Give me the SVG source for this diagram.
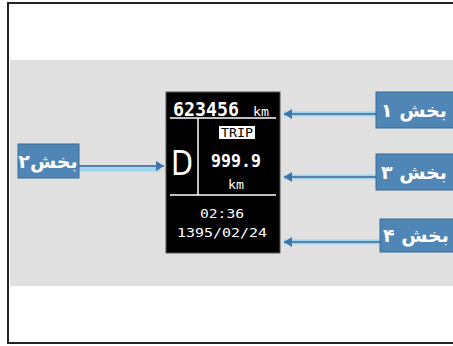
<svg xmlns="http://www.w3.org/2000/svg" width="453" height="346" viewBox="0 0 453 346">
<style>
.lbl rect{fill:#4f86b6;stroke:#3a6a95;stroke-width:1}
.lbl text{fill:#fff;font-family:"DejaVu Sans",sans-serif;font-size:19px;font-weight:bold;text-anchor:middle}
.glow{stroke:#9ed6f2;stroke-width:5;fill:none}
.ln{stroke:#5a7fa8;stroke-width:2;fill:none}
.disp{fill:#fff;font-family:"DejaVu Sans Mono","Liberation Mono",monospace;text-anchor:middle}
</style>
<defs>
<marker id="ah" markerWidth="8" markerHeight="10" refX="8" refY="5" orient="auto" markerUnits="userSpaceOnUse">
<path d="M0,0 L8,5 L0,10 Z" fill="#3f74a8"/>
</marker>
</defs>
<rect x="0" y="0" width="453" height="346" fill="#fff"/>
<rect x="10" y="60" width="443" height="226" fill="#e0e0e0"/>
<path d="M453,3 H8 V343 H453" fill="none" stroke="#222" stroke-width="2"/>
<g id="display">
<rect x="166" y="92" width="114" height="161" fill="#000" stroke="#555" stroke-width="1"/>
<line x1="170" y1="118" x2="276" y2="118" stroke="#fff" stroke-width="1.5"/>
<line x1="198" y1="118" x2="198" y2="195" stroke="#fff" stroke-width="1.5"/>
<line x1="170" y1="195" x2="276" y2="195" stroke="#fff" stroke-width="1.5"/>
<text class="disp" x="206" y="116" font-size="19" font-weight="bold" textLength="66" lengthAdjust="spacingAndGlyphs">623456</text>
<text class="disp" x="261" y="116" font-size="12" textLength="16" lengthAdjust="spacingAndGlyphs">km</text>
<rect x="219" y="126" width="36" height="13" fill="#fff"/>
<text x="237" y="137" font-family="DejaVu Sans Mono,monospace" font-size="12" fill="#000" text-anchor="middle" textLength="32" lengthAdjust="spacingAndGlyphs">TRIP</text>
<text x="182" y="175" font-family="DejaVu Sans,sans-serif" font-size="34" fill="#fff" text-anchor="middle" textLength="22" lengthAdjust="spacingAndGlyphs">D</text>
<text class="disp" x="236" y="167" font-size="17" font-weight="bold" textLength="50" lengthAdjust="spacingAndGlyphs">999.9</text>
<text class="disp" x="236" y="189" font-size="12" textLength="16" lengthAdjust="spacingAndGlyphs">km</text>
<text class="disp" x="222" y="218" font-size="13" textLength="44" lengthAdjust="spacingAndGlyphs">02:36</text>
<text class="disp" x="222" y="237" font-size="13" textLength="90" lengthAdjust="spacingAndGlyphs">1395/02/24</text>
</g>
<g id="connectors">
<line class="glow" x1="376" y1="114" x2="284" y2="114"/>
<line class="ln" x1="376" y1="114" x2="284" y2="114" marker-end="url(#ah)"/>
<line class="glow" x1="376" y1="177" x2="284" y2="177" stroke="#c9b8ef"/>
<line class="ln" x1="376" y1="177" x2="284" y2="177" marker-end="url(#ah)" stroke="#6a5a9a"/>
<line class="glow" x1="380" y1="242" x2="284" y2="242"/>
<line class="ln" x1="380" y1="242" x2="284" y2="242" marker-end="url(#ah)"/>
<line class="glow" x1="79" y1="169" x2="160" y2="169"/>
<line class="ln" x1="79" y1="166" x2="164" y2="166" stroke="#888" marker-end="url(#ah)"/>
</g>
<g id="n1" class="lbl"><rect x="376" y="92" width="80" height="36"/><text x="414" y="117">بخش ۱</text></g>
<g id="n3" class="lbl"><rect x="376" y="154" width="80" height="36"/><text x="414" y="179">بخش ۳</text></g>
<g id="n4" class="lbl"><rect x="380" y="219" width="76" height="33"/><text x="416" y="242">بخش ۴</text></g>
<g id="n2" class="lbl"><rect x="18" y="144" width="61" height="34"/><text x="48" y="168">بخش۲</text></g>
</svg>
